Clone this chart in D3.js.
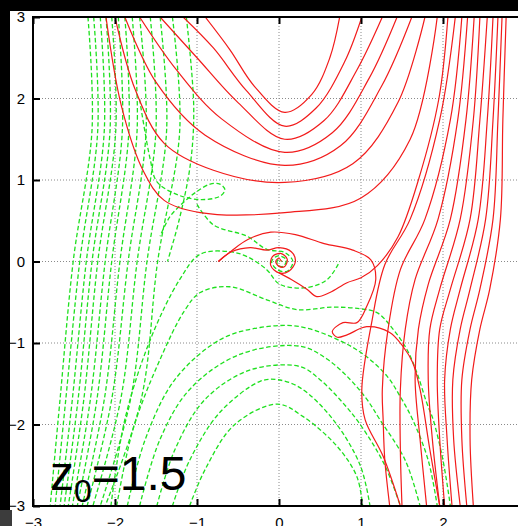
<!DOCTYPE html>
<html>
<head>
<meta charset="utf-8">
<script src="https://cdn.jsdelivr.net/npm/d3@7"></script>
<style>
body { margin: 0; background: #fff; }
svg { display: block; }
</style>
</head>
<body>
<div id="chart"></div>
<script>
// Phase portrait, z0 = 1.5 — red: forward trajectories, green: backward (dashed)

var xTicks = [-3, -2, -1, 0, 1, 2, 3];
var yTicks = [-3, -2, -1, 0, 1, 2, 3];
var panelLabel = { base: "z", sub: "0", rest: "=1.5" };

// red, U shaped family above the focus
var redUpper = [
    [[-0.90,3],[-0.60,2.60],[-0.30,2.15],[0.07,1.83],[0.40,2.05],[0.62,2.50],[0.74,3]],
    [[-1.17,3],[-0.80,2.62],[-0.40,2.10],[0.07,1.66],[0.45,1.88],[0.80,2.45],[1.01,3]],
    [[-1.45,3],[-1.00,2.50],[-0.50,1.95],[0.07,1.50],[0.55,1.73],[0.95,2.35],[1.26,3]],
    [[-1.70,3],[-1.25,2.35],[-0.70,1.75],[0.07,1.34],[0.65,1.58],[1.10,2.25],[1.44,3]],
    [[-1.88,3],[-1.50,2.20],[-0.90,1.55],[0.07,1.18],[0.75,1.42],[1.25,2.15],[1.62,3]],
    [[-2.00,3],[-1.75,2.10],[-1.40,1.45],[-0.80,1.12],[0.07,0.97],[0.90,1.20],[1.45,1.95],[1.78,3]],
    [[-2.11,3],[-1.92,1.90],[-1.65,1.10],[-1.40,0.75],[-0.96,0.60],[0.07,0.60],[1.00,0.78],[1.60,1.50],[1.93,3]]
];

// red, near-vertical family on the right
var redRight = [
    [[2.15,3],[1.96,1.74],[1.60,0.52],[1.29,-0.04],[1.13,-0.75],[1.01,-1.57],[1.05,-1.94],[1.27,-2.39],[1.48,-3]],
    [[2.23,3],[2.09,1.74],[1.78,0.52],[1.48,-0.10],[1.33,-0.83],[1.26,-1.57],[1.27,-1.94],[1.29,-2.43],[1.35,-3]],
    [[2.30,3],[2.18,1.74],[1.94,0.52],[1.66,-0.22],[1.54,-0.83],[1.48,-1.57],[1.48,-2.31],[1.50,-3]],
    [[2.38,3],[2.28,1.74],[2.09,0.52],[1.82,-0.28],[1.70,-0.83],[1.66,-1.45],[1.72,-2.18],[1.80,-3]],
    [[2.45,3],[2.37,1.74],[2.21,0.52],[1.96,-0.34],[1.84,-0.83],[1.82,-1.45],[1.87,-2.18],[1.96,-3]],
    [[2.54,3],[2.45,1.74],[2.33,0.52],[2.09,-0.34],[1.96,-0.83],[1.93,-1.45],[1.96,-2.18],[2.02,-3]],
    [[2.61,3],[2.54,1.74],[2.43,0.52],[2.21,-0.34],[2.09,-0.83],[2.02,-1.45],[2.05,-2.18],[2.11,-3]],
    [[2.67,3],[2.61,1.74],[2.52,0.52],[2.33,-0.34],[2.21,-0.83],[2.12,-1.45],[2.13,-2.18],[2.21,-3]],
    [[2.72,3],[2.67,1.74],[2.61,0.52],[2.45,-0.34],[2.33,-0.83],[2.23,-1.45],[2.23,-2.18],[2.29,-3]],
    [[2.77,3],[2.73,1.74],[2.70,0.52],[2.57,-0.34],[2.45,-0.83],[2.35,-1.45],[2.33,-2.18],[2.37,-3]]
];

// red, trajectories around the focus
var redCenter = [
    [[-0.74,0],[-0.58,0.13],[-0.38,0.27],[-0.10,0.36],[0.20,0.33],[0.55,0.22],[0.90,0.14],[1.12,0.02],
     [1.18,-0.22],[1.07,-0.55],[0.95,-0.75],[0.78,-0.75],[0.65,-0.86],[0.71,-0.93],[0.83,-0.90],[1.07,-0.80],
     [1.35,-0.87],[1.51,-1.04],[1.63,-1.24],[1.72,-1.57],[1.84,-2.31],[1.96,-3]],
    [[-0.74,0],[-0.58,0.12],[-0.35,0.17],[-0.15,0.14],[0.00,0.17],[0.15,0.12],[0.20,0],[0.12,-0.12],
     [0.00,-0.14],[-0.10,-0.05],[-0.08,0.06],[0.02,0.10],[0.10,0.03],[0.07,-0.06],[0.00,-0.06],[-0.04,0],[0.00,0.04],[0.03,0]],
    [[0.00,-0.14],[0.15,-0.22],[0.34,-0.34],[0.46,-0.43],[0.62,-0.38],[0.83,-0.26],[1.00,-0.20],[1.20,-0.05],
     [1.45,0.30],[1.70,1.00],[1.95,2.00],[2.06,3]]
];

// green, near-vertical family on the left
var greenLeft = [
    [[-2.33,3],[-2.28,1.62],[-2.51,0],[-2.67,-1.69],[-2.79,-3]],
    [[-2.26,3],[-2.21,1.62],[-2.43,0],[-2.60,-1.69],[-2.73,-3]],
    [[-2.18,3],[-2.13,1.62],[-2.35,0],[-2.52,-1.69],[-2.67,-3]],
    [[-2.11,3],[-2.06,1.62],[-2.28,0],[-2.45,-1.69],[-2.62,-3]],
    [[-2.04,3],[-1.99,1.62],[-2.21,0],[-2.38,-1.69],[-2.57,-3]],
    [[-1.96,3],[-1.91,1.62],[-2.12,0],[-2.30,-1.69],[-2.52,-3]],
    [[-1.88,3],[-1.83,1.62],[-2.04,0],[-2.22,-1.69],[-2.46,-3]],
    [[-1.79,3],[-1.73,1.62],[-1.94,0],[-2.13,-1.69],[-2.40,-3]],
    [[-1.70,3],[-1.62,1.62],[-1.84,0],[-2.04,-1.69],[-2.34,-3]],
    [[-1.57,3],[-1.50,1.62],[-1.73,0],[-1.93,-1.69],[-2.27,-3]],
    [[-1.45,3],[-1.37,1.62],[-1.61,0],[-1.81,-1.69],[-2.18,-3]],
    [[-1.30,3],[-1.21,1.62],[-1.48,0],[-1.68,-1.69],[-2.12,-3]],
    [[-1.13,3],[-1.04,1.90],[-1.08,1.20],[-1.22,0.50],[-1.36,0]]
];

// green, arches below the focus
var greenArcs = [
    [[-1.09,-3],[-0.90,-2.55],[-0.54,-2.00],[-0.02,-1.75],[0.29,-1.90],[0.71,-2.27],[0.95,-2.64],[1.02,-3]],
    [[-1.30,-3],[-1.09,-2.44],[-0.72,-1.85],[-0.23,-1.47],[-0.02,-1.45],[0.26,-1.55],[0.66,-1.94],[0.99,-2.50],[1.11,-3]],
    [[-1.49,-3],[-1.27,-2.31],[-0.90,-1.69],[-0.35,-1.33],[0.26,-1.29],[0.50,-1.45],[0.74,-1.69],[0.99,-2.00],[1.29,-2.50],[1.48,-3]],
    [[-1.70,-3],[-1.45,-2.18],[-1.09,-1.57],[-0.48,-1.14],[0.26,-1.04],[0.59,-1.20],[0.87,-1.45],[1.07,-1.69],[1.23,-1.94],[1.54,-2.44],[1.72,-3]],
    [[-1.85,-3],[-1.63,-2.18],[-1.27,-1.45],[-0.72,-0.96],[-0.23,-0.81],[0.26,-0.80],[0.78,-0.99],[1.07,-1.17],[1.32,-1.41],[1.48,-1.66],[1.63,-1.94],[1.82,-2.44],[1.93,-3]],
    [[-1.98,-3],[-1.78,-2.06],[-1.45,-1.20],[-1.15,-0.60],[-0.96,-0.38],[-0.60,-0.31],[-0.15,-0.47],[0.22,-0.59],[0.66,-0.56],[0.99,-0.58],[1.20,-0.63],[1.39,-0.83],[1.56,-1.08],[1.68,-1.36],[1.80,-1.73],[1.88,-1.94],[2.00,-2.44],[2.09,-3]]
];

// green, trajectories near the focus
var greenCenter = [
    [[-2.05,-3],[-1.88,-1.94],[-1.57,-0.96],[-1.21,-0.22],[-0.96,0.09],[-0.60,0.12],[-0.39,0.06],[-0.15,-0.10],[0.01,-0.28],[0.34,-0.32],[0.59,-0.22],[0.74,0]],
    [[-1.70,1.99],[-1.57,1.25],[-1.49,0.98],[-1.24,0.82],[-0.96,0.76],[-0.72,0.80],[-0.66,0.88],[-0.72,0.95],[-0.84,0.95],[-1.00,0.86],[-1.17,0.72],[-1.33,0.55],[-1.45,0.31]],
    [[-1.00,0.70],[-0.80,0.45],[-0.39,0.31],[-0.15,0.15],[0.07,0.11],[0.17,0],[0.10,-0.12],[-0.02,-0.10],[-0.09,0],[-0.01,0.07],[0.09,0.02],[0.05,-0.06],[-0.02,-0.04],[-0.01,0.02],[0.04,0]]
];

var W = 518, H = 526;
var svg = d3.select("#chart").append("svg")
    .attr("width", W)
    .attr("height", H);

// page backdrop: black bars on top and left
svg.append("rect").attr("width", W).attr("height", H).attr("fill", "#fff");
svg.append("rect").attr("width", W).attr("height", 11).attr("fill", "#000");
svg.append("rect").attr("width", 10).attr("height", 510).attr("fill", "#000");
svg.append("rect").attr("y", 510).attr("width", 12).attr("height", 16).attr("fill", "#3c3c3c");

var x = d3.scaleLinear().domain([-3, 3]).range([33, 525]);
var y = d3.scaleLinear().domain([-3, 3]).range([506, 17]);

svg.append("clipPath").attr("id", "plotclip")
    .append("rect")
    .attr("x", x(-3)).attr("y", y(3))
    .attr("width", x(3) - x(-3)).attr("height", y(-3) - y(3));

// --- dotted grid ---
var grid = svg.append("g");
grid.selectAll(".gx")
    .data(xTicks.slice(1, -1))
    .enter().append("line")
    .attr("x1", function(d) { return x(d); })
    .attr("x2", function(d) { return x(d); })
    .attr("y1", y(3)).attr("y2", y(-3));
grid.selectAll(".gy")
    .data(yTicks.slice(1, -1))
    .enter().append("line")
    .attr("y1", function(d) { return y(d); })
    .attr("y2", function(d) { return y(d); })
    .attr("x1", x(-3)).attr("x2", x(3));
grid.selectAll("line")
    .attr("stroke", "#8a8a8a")
    .attr("stroke-width", 1)
    .attr("stroke-dasharray", "1,2");

// --- trajectories ---
var line = d3.line()
    .curve(d3.curveCatmullRom.alpha(0.5))
    .x(function(d) { return x(d[0]); })
    .y(function(d) { return y(d[1]); });

var plot = svg.append("g").attr("clip-path", "url(#plotclip)");

plot.selectAll(".green")
    .data(greenLeft.concat(greenArcs, greenCenter))
    .enter().append("path")
    .attr("class", "green")
    .attr("d", line)
    .attr("fill", "none")
    .attr("stroke", "#1ee01e")
    .attr("stroke-width", 1.3)
    .attr("stroke-dasharray", "4.5,2.5");

plot.selectAll(".red")
    .data(redUpper.concat(redRight, redCenter))
    .enter().append("path")
    .attr("class", "red")
    .attr("d", line)
    .attr("fill", "none")
    .attr("stroke", "#f21b1b")
    .attr("stroke-width", 1.2);

// --- axes ---
var fontFam = "'Liberation Sans', Arial, sans-serif";

var gx = svg.append("g")
    .attr("transform", "translate(0," + y(-3) + ")")
    .call(d3.axisBottom(x).tickValues(xTicks).tickSize(-7).tickPadding(11).tickFormat(d3.format("d")));
var gxTop = svg.append("g")
    .attr("transform", "translate(0," + y(3) + ")")
    .call(d3.axisTop(x).tickValues(xTicks).tickSize(-7).tickFormat(""));
var gy = svg.append("g")
    .attr("transform", "translate(" + x(-3) + ",0)")
    .call(d3.axisLeft(y).tickValues(yTicks).tickSize(-7).tickPadding(8).tickFormat(d3.format("d")));

[gx, gxTop, gy].forEach(function(g) {
    g.select(".domain").remove();
    g.selectAll("line").attr("stroke", "#000").attr("stroke-width", 2);
    g.selectAll("text")
        .attr("fill", "#000")
        .style("font-family", fontFam)
        .style("font-size", "15px");
});

// frame
svg.append("rect")
    .attr("x", x(-3)).attr("y", y(3))
    .attr("width", x(3) - x(-3)).attr("height", y(-3) - y(3))
    .attr("fill", "none")
    .attr("stroke", "#000")
    .attr("stroke-width", 2);

// --- panel label ---
var lab = svg.append("text")
    .attr("x", 50).attr("y", 490)
    .attr("fill", "#000")
    .style("font-family", fontFam)
    .style("font-size", "48px");
lab.append("tspan").text(panelLabel.base);
lab.append("tspan").attr("dy", 12).style("font-size", "32px").text(panelLabel.sub);
lab.append("tspan").attr("dy", -12).text(panelLabel.rest);
</script>
</body>
</html>
